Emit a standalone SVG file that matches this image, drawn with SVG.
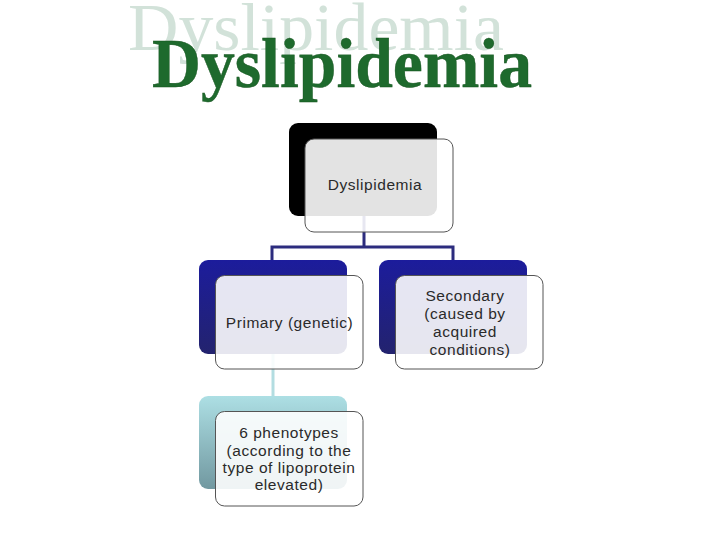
<svg xmlns="http://www.w3.org/2000/svg" width="720" height="540" viewBox="0 0 720 540">
<defs>
<linearGradient id="gBlue" x1="0" y1="0" x2="0" y2="1">
<stop offset="0" stop-color="#1c1c9c"/>
<stop offset="1" stop-color="#23236e"/>
</linearGradient>
<linearGradient id="gTeal" x1="0" y1="0" x2="0" y2="1">
<stop offset="0" stop-color="#addfe4"/>
<stop offset="1" stop-color="#7198a0"/>
</linearGradient>
</defs>
<style>
.front{fill:#ffffff;fill-opacity:0.89;stroke:#555555;stroke-width:1}
.lbl{font-family:"Liberation Sans",Arial,sans-serif;font-size:15.5px;fill:#2a2a2a;text-anchor:middle;letter-spacing:0.55px}
.conn{fill:none;stroke-width:3}
</style>
<rect width="720" height="540" fill="#ffffff"/>
<g id="title">
<text x="128" y="50" font-family="'Liberation Serif','Times New Roman',serif" font-size="68" fill="#d2e2d9" textLength="376" lengthAdjust="spacingAndGlyphs">Dyslipidemia</text>
<text x="152" y="87" font-family="'Liberation Serif','Times New Roman',serif" font-size="70" font-weight="bold" fill="#1e6a2d" stroke="#17531f" stroke-width="0.4" textLength="380" lengthAdjust="spacingAndGlyphs">Dyslipidemia</text>
</g>
<g id="connectors">
<path class="conn" stroke="#2c2c7e" d="M364 216 V247 M272 262 V247 H453 V262"/>
<path class="conn" stroke="#b3dde1" d="M273 354 V397"/>
</g>
<g id="node-dyslipidemia">
<rect x="289" y="123" width="148" height="93" rx="9" fill="#000000"/>
<rect class="front" x="305" y="139" width="148" height="93" rx="9"/>
<text class="lbl" x="375" y="190">Dyslipidemia</text>
</g>
<g id="node-primary">
<rect x="199" y="260" width="148" height="94" rx="9" fill="url(#gBlue)"/>
<rect class="front" x="215.5" y="275.5" width="147.5" height="93.5" rx="9"/>
<text class="lbl" x="289.5" y="328">Primary (genetic)</text>
</g>
<g id="node-secondary">
<rect x="379" y="260" width="148" height="94" rx="9" fill="url(#gBlue)"/>
<rect class="front" x="395.5" y="275.5" width="147.5" height="93.5" rx="9"/>
<text class="lbl" x="465" y="301">Secondary</text>
<text class="lbl" x="465" y="319">(caused by</text>
<text class="lbl" x="465" y="337">acquired</text>
<text class="lbl" x="470" y="355">conditions)</text>
</g>
<g id="node-phenotypes">
<rect x="199" y="396" width="148" height="93" rx="9" fill="url(#gTeal)"/>
<rect class="front" x="215.5" y="411.5" width="147.5" height="94.5" rx="9"/>
<text class="lbl" x="289" y="438">6 phenotypes</text>
<text class="lbl" x="289" y="455.5">(according to the</text>
<text class="lbl" x="289" y="473">type of lipoprotein</text>
<text class="lbl" x="289" y="490">elevated)</text>
</g>
</svg>
